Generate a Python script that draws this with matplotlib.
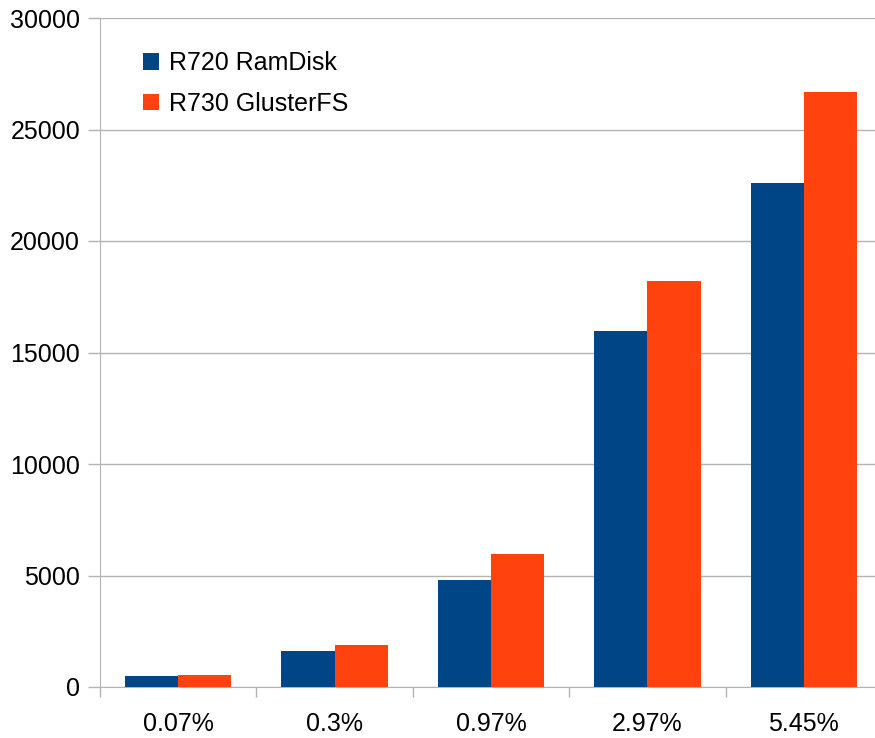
import matplotlib
matplotlib.use('Agg')
import matplotlib.pyplot as plt
import numpy as np

#####
# data
#####
categories = ['0.07%', '0.3%', '0.97%', '2.97%', '5.45%']
r720_ramdisk = [490, 1610, 4800, 15960, 22600]
r730_gluster = [550, 1880, 5960, 18200, 26680]
series_names = ['R720 RamDisk', 'R730 GlusterFS']
colors = ['#004586', '#ff420e']

plt.rcParams['font.family'] = ['Liberation Sans', 'DejaVu Sans']
fs = 18

fig = plt.figure(figsize=(8.75, 7.38), dpi=100)
# plot area runs slightly past the right edge of the image, as in the original
ax = fig.add_axes([100/875, 1 - 687/738, 782/875, (687 - 18)/738])

x = np.arange(len(categories))
w = 0.34
ax.bar(x - w/2, r720_ramdisk, w, color=colors[0], label=series_names[0], zorder=3)
ax.bar(x + w/2, r730_gluster, w, color=colors[1], label=series_names[1], zorder=3)

ax.set_xlim(-0.5, len(categories) - 0.5)
ax.set_ylim(0, 30000)
ax.set_yticks(np.arange(0, 30001, 5000))
ax.yaxis.grid(True, color='#b3b3b3', linewidth=1, zorder=0)

# category labels in the middle, tick marks on the boundaries
ax.set_xticks(x)
ax.set_xticklabels(categories, fontsize=fs)
ax.tick_params(axis='x', length=0, pad=18)
ax.set_xticks(np.arange(-0.5, len(categories)), minor=True)
ax.tick_params(axis='x', which='minor', length=7.5, color='#b3b3b3', width=1)
ax.tick_params(axis='y', length=8.6, color='#b3b3b3', width=1, labelsize=fs, pad=5.8)

for s in ['top', 'right']:
	ax.spines[s].set_visible(False)
for s in ['left', 'bottom']:
	ax.spines[s].set_color('#b3b3b3')

ax.legend(loc='upper left', bbox_to_anchor=(0.042, 0.965), frameon=False, fontsize=fs,
	handlelength=0.65, handleheight=0.65, handletextpad=0.4, labelspacing=0.65,
	borderaxespad=0)

fig.savefig('out.png', dpi=100)
